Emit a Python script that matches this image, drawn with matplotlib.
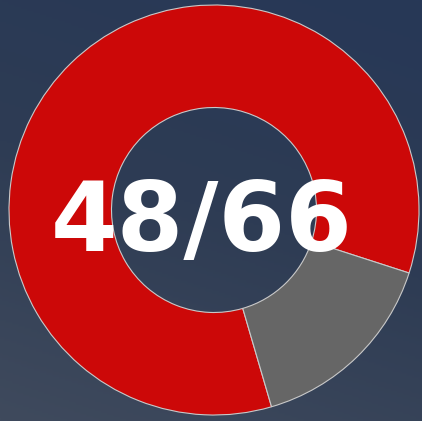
import numpy as np
import matplotlib.pyplot as plt
from matplotlib.colors import LinearSegmentedColormap

# share of the ring
labels = ["done", "left"]
values = [84.5, 15.5]
colors = ["#cc0808", "#666666"]
center_text = "48/66"

fig = plt.figure(figsize=(4.22, 4.21), dpi=100)

# background gradient
bg = fig.add_axes([0, 0, 1, 1])
yy, xx = np.mgrid[0:1:200j, 0:1:200j]
grad = 0.75 * yy + 0.25 * (1 - xx)
cmap = LinearSegmentedColormap.from_list("bg", ["#273857", "#2e3c54", "#3f4a5d"])
bg.imshow(grad, cmap=cmap, aspect="auto", extent=[0, 1, 0, 1], origin="upper")
bg.axis("off")

ax = fig.add_axes([9 / 422, 1 - 415 / 421, 410 / 422, 410 / 421])
ax.pie(values, colors=colors, startangle=-17.9, counterclock=True,
       wedgeprops=dict(width=0.5, edgecolor="#c9c9c9", linewidth=0.8))
ax.set_xlim(-1.0, 1.0)
ax.set_ylim(-1.0, 1.0)
ax.set_aspect("equal")
ax.axis("off")

fig.text(201.5 / 422, 1 - 225 / 421, center_text, color="white", fontsize=69,
         fontweight="bold", family="DejaVu Sans", ha="center", va="center")

plt.savefig("out.png", dpi=100)
